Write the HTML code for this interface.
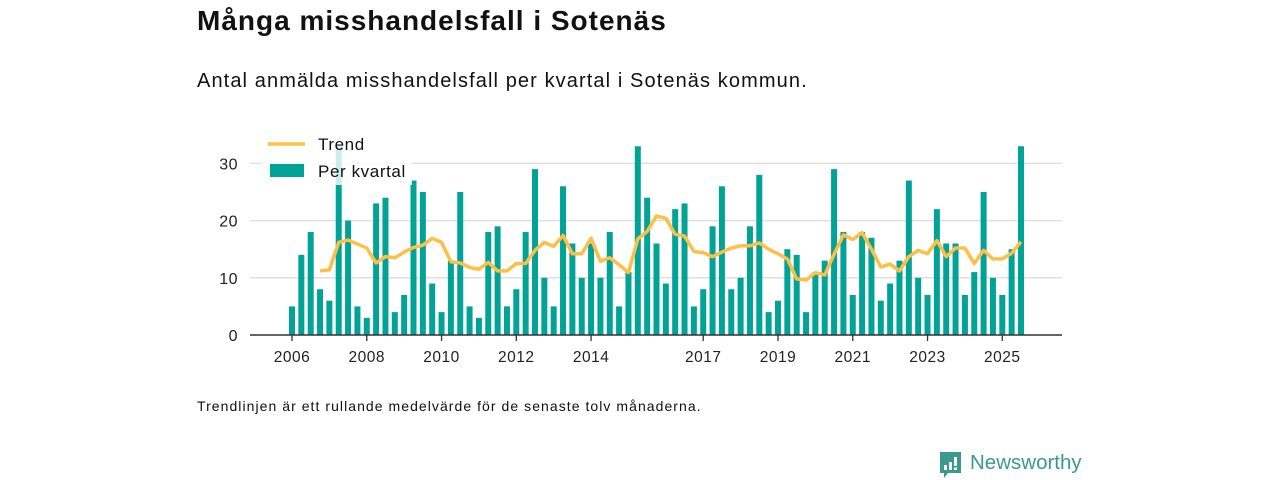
<!DOCTYPE html>
<html><head><meta charset="utf-8"><style>
body{margin:0;width:1280px;height:480px;background:#fff;font-family:"Liberation Sans",sans-serif;color:#111;position:relative;overflow:hidden}
.t{position:absolute;white-space:nowrap}
</style></head><body>
<div class="t" style="left:197px;top:5px;font-size:28px;font-weight:bold;letter-spacing:1px">Många misshandelsfall i Sotenäs</div>
<div class="t" style="left:197px;top:70px;font-size:20px;letter-spacing:1.1px">Antal anmälda misshandelsfall per kvartal i Sotenäs kommun.</div>
<svg id="chart" width="1280" height="400" style="position:absolute;left:0;top:0"></svg>
<div class="t" style="left:197px;top:398px;font-size:14px;letter-spacing:1.05px">Trendlinjen är ett rullande medelvärde för de senaste tolv månaderna.</div>
<div style="position:absolute;left:940px;top:451px;width:150px;height:28px">
<svg width="22" height="28" style="position:absolute;left:0;top:1px"><path d="M0 0H21V21H8L4 26V21H0Z" fill="#3a9a8e"/><rect x="4" y="13" width="3" height="5" fill="#fff"/><rect x="9" y="10" width="3" height="8" fill="#fff"/><rect x="14" y="5" width="3" height="9" fill="#fff"/><rect x="14" y="15.5" width="3" height="2.5" fill="#fff"/></svg>
<div class="t" style="left:30px;top:0px;font-size:20.5px;color:#3a9a8e">Newsworthy</div>
</div>
<script>
const values=[5,14,18,8, 6,33,20,5, 3,23,24,4, 7,27,25,9, 4,13,25,5, 3,18,19,5, 8,18,29,10, 5,26,16,10, 16,10,18,5, 11,33,24,16, 9,22,23,5, 8,19,26,8, 10,19,28,4, 6,15,14,4, 11,13,29,18, 7,18,17,6, 9,13,27,10, 7,22,16,16, 7,11,25,10, 7,15,33];
const trendStart=3;
const trend=[11.2,11.4,16.2,16.6,15.9,15.2,12.6,13.7,13.5,14.5,15.3,15.7,16.9,16.2,12.8,12.6,11.8,11.5,12.7,11.2,11.2,12.5,12.5,
14.8,16.2,15.5,17.4,14.2,14.2,16.9,12.9,13.5,12.3,10.9,16.8,18.1,20.8,20.4,17.6,17.3,14.6,14.4,13.7,14.5,15.2,15.6,15.6,16.1,15.0,14.2,13.3,9.8,
9.6,10.9,10.5,14.1,17.5,16.7,17.9,15.0,11.9,12.4,11.2,13.7,14.8,14.2,16.5,13.7,15.2,15.2,12.5,14.8,13.3,13.3,14.3,16.3];
const yTicks=[0,10,20,30];
const xTickYears=[2006,2008,2010,2012,2014,2017,2019,2021,2023,2025];
const NS="http://www.w3.org/2000/svg",svg=document.getElementById('chart');
const x0=292,step=9.346,y0=335,k=5.72;
const X=i=>x0+i*step, Y=v=>y0-v*k, XY=yr=>x0+(yr-2006)*4*step;
function el(t,a){const e=document.createElementNS(NS,t);for(const n in a)e.setAttribute(n,a[n]);svg.appendChild(e);return e;}
yTicks.forEach(v=>{
 if(v>0){const g=el('line',{x1:250,x2:1062,y1:Y(v),y2:Y(v),stroke:'#dcdcdc','stroke-width':1.3});
 
 }
 const t=el('text',{x:238,y:Y(v)+6,'text-anchor':'end','font-size':16,'letter-spacing':0.5,fill:'#222','font-family':'Liberation Sans, sans-serif'});t.textContent=v;
 
 
});
values.forEach((v,i)=>{
 const r=el('rect',{x:X(i)-3,y:Y(v),width:6,height:v*k,fill:'#00a396'});
 
 
});
const ax=el('line',{x1:250,x2:1062,y1:y0,y2:y0,stroke:'#333','stroke-width':1.5});


xTickYears.forEach(yr=>{
 const tk=el('line',{x1:XY(yr),x2:XY(yr),y1:y0,y2:y0+6,stroke:'#333','stroke-width':1.3});
 
 
 const t=el('text',{x:XY(yr),y:362,'text-anchor':'middle','font-size':15.5,'letter-spacing':0.5,fill:'#222','font-family':'Liberation Sans, sans-serif'});t.textContent=yr;
 
 
});
const pl=el('polyline',{points:trend.map((v,j)=>X(j+trendStart)+','+Y(v)).join(' '),fill:'none',stroke:'#fdbf45','stroke-width':3.5,'stroke-linejoin':'round'});


const lg=el('rect',{x:262,y:131,width:150,height:54,fill:'#fff','fill-opacity':0.8});


const l1=el('line',{x1:268,x2:305,y1:144,y2:144,stroke:'#fdbf45','stroke-width':3.5});


const t1=el('text',{x:318,y:150,'font-size':17,'letter-spacing':0.6,fill:'#111','font-family':'Liberation Sans, sans-serif'});t1.textContent='Trend';


const r2=el('rect',{x:270,y:164,width:34,height:13,fill:'#00a396'});


const t2=el('text',{x:318,y:177,'font-size':17,'letter-spacing':0.6,fill:'#111','font-family':'Liberation Sans, sans-serif'});t2.textContent='Per kvartal';


</script>
</body></html>
